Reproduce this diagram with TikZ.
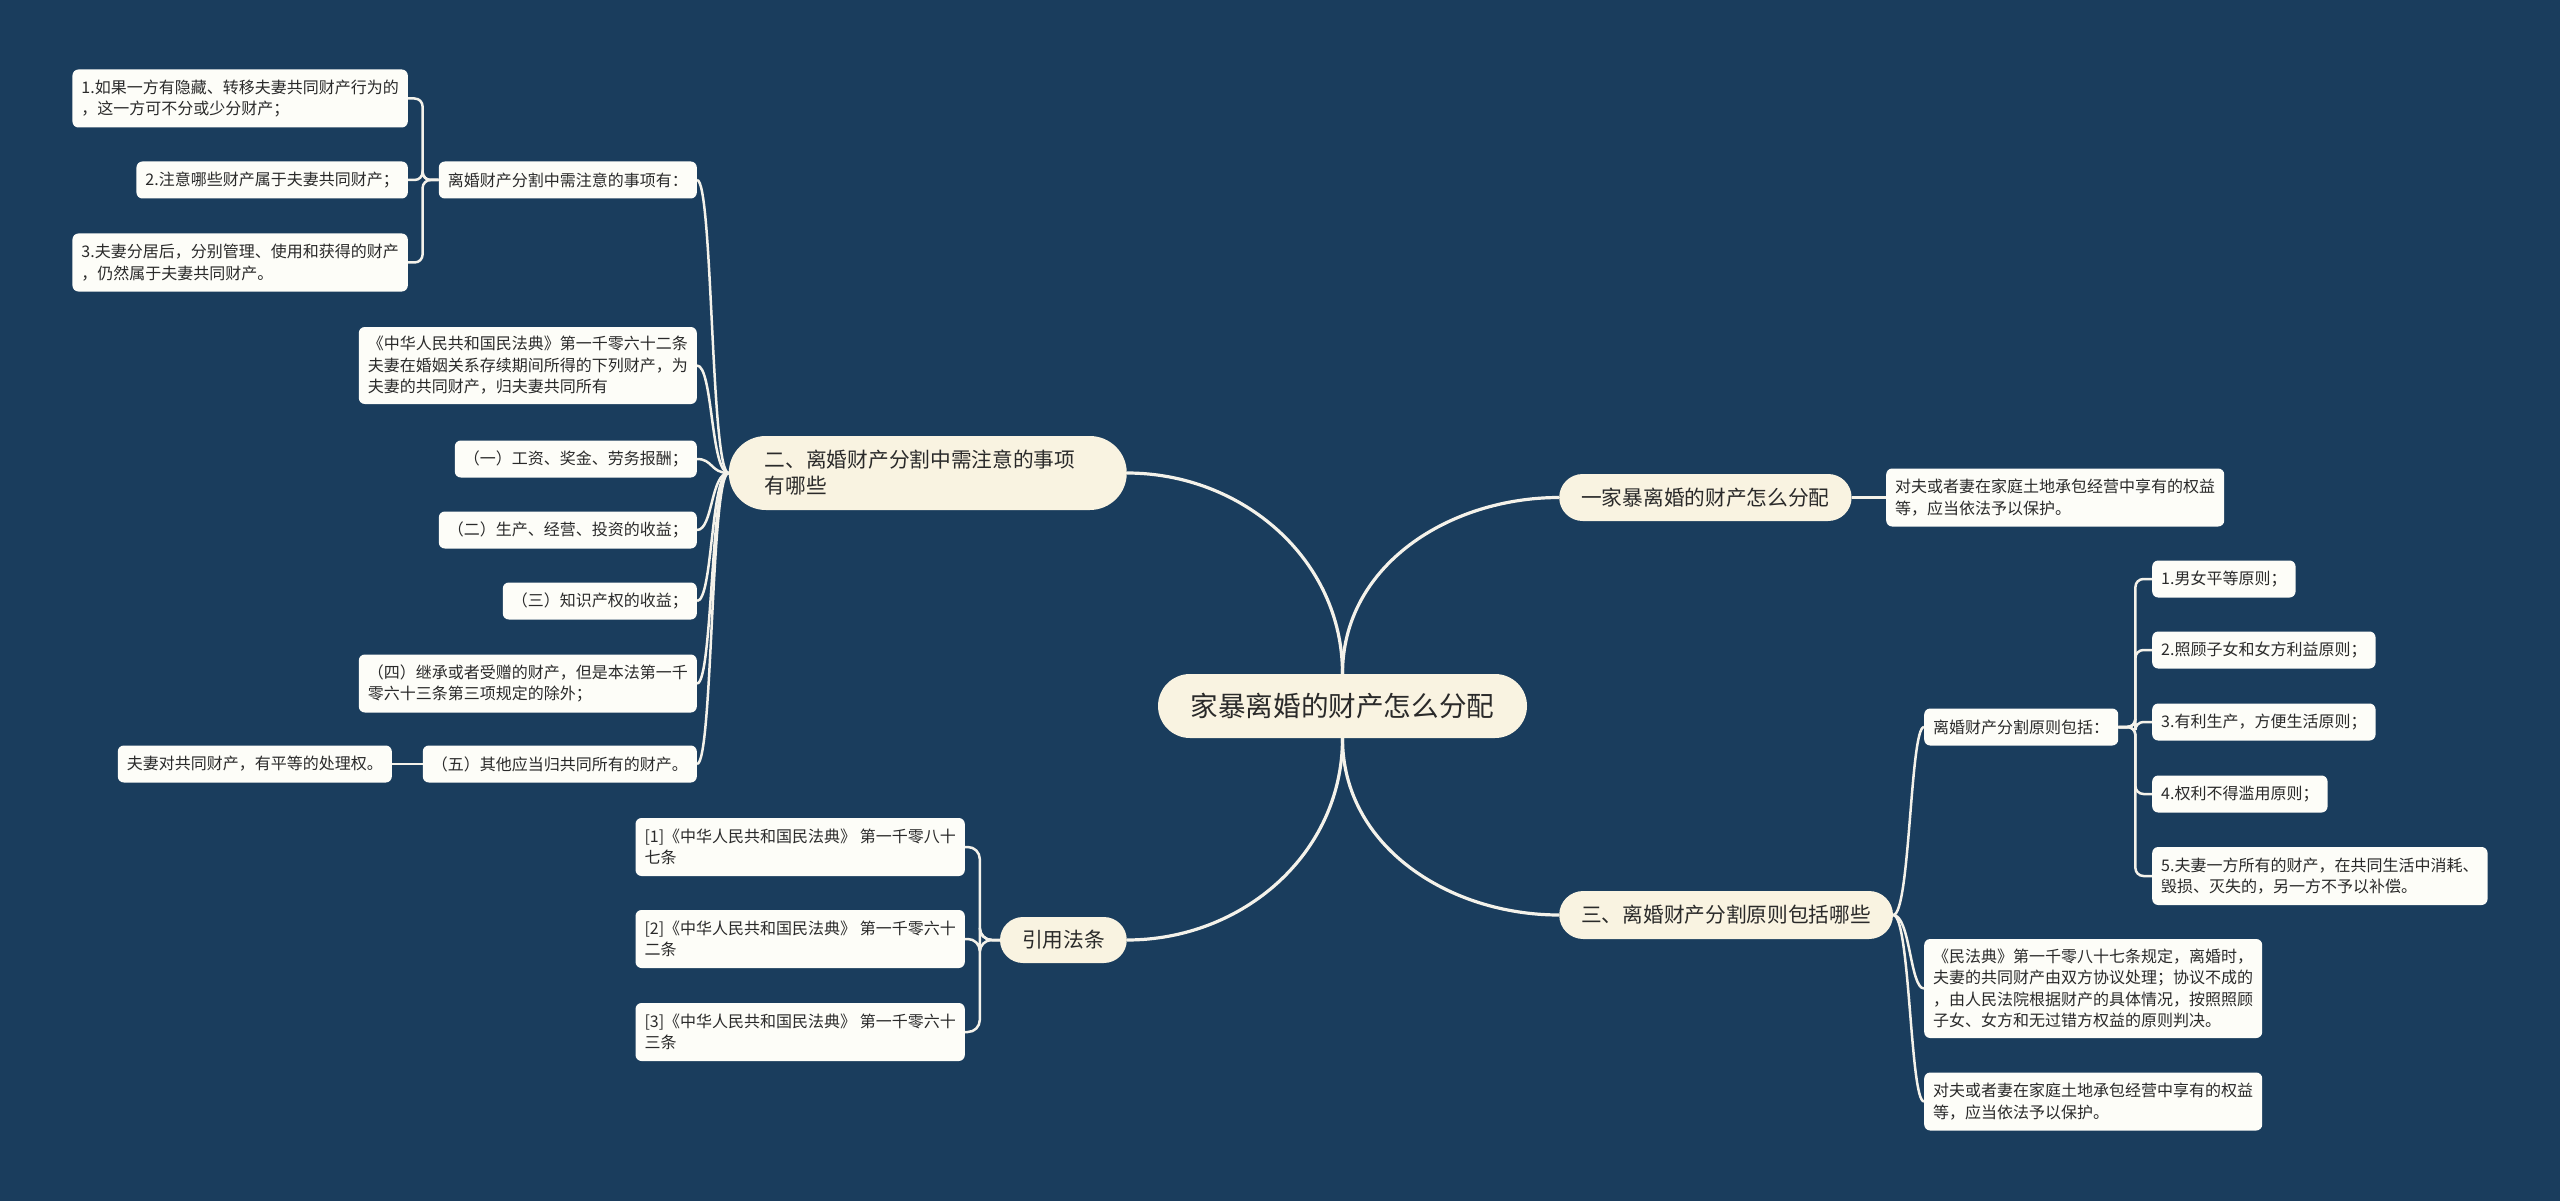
\documentclass[tikz,border=0pt]{standalone}
\usepackage{fontspec}
\setmainfont{Noto Sans CJK SC}
\usetikzlibrary{calc}
\definecolor{bgc}{HTML}{1A3D5D}
\definecolor{topicfill}{HTML}{F9F3E1}
\definecolor{leaffill}{HTML}{FDFDF8}
\definecolor{linecol}{HTML}{F4F2EA}
\definecolor{txt}{HTML}{2A2A2A}
\pgfdeclarelayer{bgl}
\pgfdeclarelayer{lines}
\pgfsetlayers{bgl,lines,main}
\tikzset{
  leaf/.style={fill=leaffill, text=txt, rounded corners=6pt, inner xsep=9pt, inner ysep=0pt,
    font=\fontsize{16}{21.5}\selectfont, align=left},
  lone/.style={leaf, minimum height=37pt},
  ltwo/.style={leaf, minimum height=58pt},
  lthree/.style={leaf, minimum height=77pt},
  lfour/.style={leaf, minimum height=99pt},
  topic/.style={fill=topicfill, text=txt, inner xsep=22pt, inner ysep=0pt,
    font=\fontsize{20.7}{26}\selectfont, align=left},
  central/.style={fill=topicfill, text=txt, inner sep=0pt, minimum width=369pt, minimum height=64pt,
    rounded corners=32pt, font=\fontsize{27.6}{33}\selectfont},
  conn/.style={draw=linecol, line width=3.2pt},
  subconn/.style={draw=linecol, line width=2.5pt},
}
\begin{document}
\begin{tikzpicture}[x=1pt,y=-1pt]
\begin{pgfonlayer}{bgl}
\fill[bgc] (0,0) rectangle (2560,1201);
\end{pgfonlayer}
\useasboundingbox (0,0) rectangle (2560,1201);

% central
\node[central] (c) at (1342.5,706) {家暴离婚的财产怎么分配};

% main topics
\node[topic, anchor=west, minimum height=47pt, rounded corners=23.5pt] (n1) at (1559,497.5) {一家暴离婚的财产怎么分配};
\node[topic, anchor=east, minimum height=74pt, rounded corners=37pt, inner xsep=36pt, text width=326pt] (n2) at (1127,473) {二、离婚财产分割中需注意的事项\\有哪些};
\node[topic, anchor=west, minimum height=48pt, rounded corners=24pt] (n3) at (1559,915) {三、离婚财产分割原则包括哪些};
\node[topic, anchor=east, minimum height=46pt, rounded corners=23pt] (ny) at (1127,940) {引用法条};

% branch 1
\node[ltwo, anchor=west] (n1a) at (1886,497.5) {对夫或者妻在家庭土地承包经营中享有的权益\\等，应当依法予以保护。};

% branch 2
\node[lone, anchor=east] (na) at (697,180) {离婚财产分割中需注意的事项有：};
\node[ltwo, anchor=east] (na1) at (408,98.5) {1.如果一方有隐藏、转移夫妻共同财产行为的\\，这一方可不分或少分财产；};
\node[lone, anchor=east] (na2) at (408,180) {2.注意哪些财产属于夫妻共同财产；};
\node[ltwo, anchor=east] (na3) at (408,262.5) {3.夫妻分居后，分别管理、使用和获得的财产\\，仍然属于夫妻共同财产。};
\node[lthree, anchor=east] (nb) at (697,365.5) {《中华人民共和国民法典》第一千零六十二条\\夫妻在婚姻关系存续期间所得的下列财产，为\\夫妻的共同财产，归夫妻共同所有};
\node[lone, anchor=east] (nc) at (697,459) {（一）工资、奖金、劳务报酬；};
\node[lone, anchor=east] (nd) at (697,530) {（二）生产、经营、投资的收益；};
\node[lone, anchor=east] (ne) at (697,601) {（三）知识产权的收益；};
\node[ltwo, anchor=east] (nf) at (697,683.5) {（四）继承或者受赠的财产，但是本法第一千\\零六十三条第三项规定的除外；};
\node[lone, anchor=east] (ng) at (697,764) {（五）其他应当归共同所有的财产。};
\node[lone, anchor=east] (ng1) at (392,764) {夫妻对共同财产，有平等的处理权。};

% branch 3
\node[lone, anchor=west] (nr) at (1924,727) {离婚财产分割原则包括：};
\node[lone, anchor=west] (nr1) at (2152,579) {1.男女平等原则；};
\node[lone, anchor=west] (nr2) at (2152,650) {2.照顾子女和女方利益原则；};
\node[lone, anchor=west] (nr3) at (2152,722) {3.有利生产，方便生活原则；};
\node[lone, anchor=west] (nr4) at (2152,794) {4.权利不得滥用原则；};
\node[ltwo, anchor=west] (nr5) at (2152,876) {5.夫妻一方所有的财产，在共同生活中消耗、\\毁损、灭失的，另一方不予以补偿。};
\node[lfour, anchor=west] (ns) at (1924,988.5) {《民法典》第一千零八十七条规定，离婚时，\\夫妻的共同财产由双方协议处理；协议不成的\\，由人民法院根据财产的具体情况，按照照顾\\子女、女方和无过错方权益的原则判决。};
\node[ltwo, anchor=west] (nt) at (1924,1101.5) {对夫或者妻在家庭土地承包经营中享有的权益\\等，应当依法予以保护。};

% references
\node[ltwo, anchor=east] (y1) at (965,847) {[1]《中华人民共和国民法典》 第一千零八十\\七条};
\node[ltwo, anchor=east] (y2) at (965,939) {[2]《中华人民共和国民法典》 第一千零六十\\二条};
\node[ltwo, anchor=east] (y3) at (965,1032) {[3]《中华人民共和国民法典》 第一千零六十\\三条};

\begin{pgfonlayer}{lines}
% central connectors
\draw[conn] (c.north) to[out=90,in=180] (n1.west);
\draw[conn] (c.north) to[out=90,in=0] (n2.east);
\draw[conn] (c.south) to[out=-90,in=180] (n3.west);
\draw[conn] (c.south) to[out=-90,in=0] (ny.east);
% branch 1
\draw[subconn] (n1.east) -- (n1a.west);
% branch 2
\foreach \t in {na,nb,nc,nd,ne,nf,ng}
  \draw[subconn] (n2.west) .. controls +(-18,0) and +(16,0) .. (\t.east);
\foreach \t in {na1,na2,na3}
  \draw[subconn, rounded corners=8pt] (na.west) -- ++(-16,0) |- (\t.east);
\draw[subconn] (ng.west) -- (ng1.east);
% branch 3
\foreach \t in {nr,ns,nt}
  \draw[subconn] (n3.east) .. controls +(17,0) and +(-14,0) .. (\t.west);
\foreach \t in {nr1,nr2,nr3,nr4,nr5}
  \draw[subconn, rounded corners=8pt] (nr.east) -- ++(17,0) |- (\t.west);
% references
\foreach \t in {y1,y2,y3}
  \draw[subconn, rounded corners=12pt] (ny.west) -- ++(-20,0) |- (\t.east);
\end{pgfonlayer}
\end{tikzpicture}
\end{document}
